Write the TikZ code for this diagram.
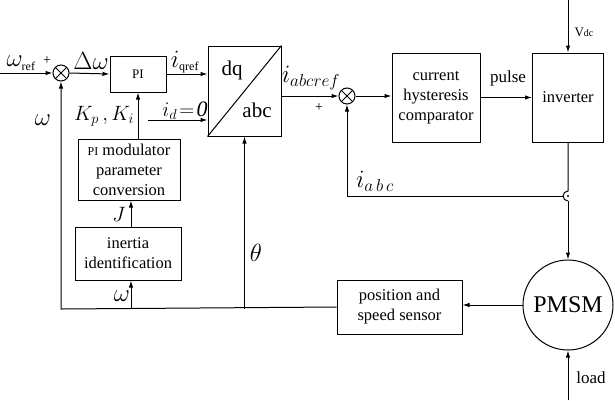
\documentclass[tikz,border=0pt]{standalone}
\usepackage{fontspec}
\setmainfont{Liberation Serif}
\usetikzlibrary{arrows.meta}

\tikzset{
    block/.style={draw, inner sep=0pt, align=center, font=\fontsize{16.5}{20}\selectfont},
    summer/.style={draw, circle, minimum size=16pt, inner sep=0pt,
        path picture={\draw (path picture bounding box.north west) -- (path picture bounding box.south east)
                            (path picture bounding box.north east) -- (path picture bounding box.south west);}},
    lbl/.style={inner sep=0pt, font=\fontsize{17}{20}\selectfont},
}

\begin{document}
\begin{tikzpicture}[x=1pt, y=-1pt, line width=1pt, >={Latex[length=7pt,width=4.5pt]}]
    \useasboundingbox (0,0) rectangle (615,400);

    % First the speed loop
    \node[summer] (sum1) at (61,73) {};
    \node[block, minimum width=56pt, minimum height=36pt, font=\fontsize{13}{13}\selectfont] (pi) at (138,74) {PI};
    \node[block, minimum width=102pt, minimum height=61pt] (pimod) at (129,169.5) {{\fontsize{12}{12}\selectfont PI} modulator\\parameter\\conversion};
    \node[block, minimum width=106pt, minimum height=53pt] (inertia) at (128,253.5) {inertia\\identification};

    % Now the dq/abc transform
    \node[block, minimum width=73pt, minimum height=90pt] (dqabc) at (244.5,91) {};
    \draw (dqabc.south west) -- (dqabc.north east);
    \node[lbl, font=\fontsize{21}{21}\selectfont] (dq) at (232,70) {dq};
    \node[lbl, font=\fontsize{21}{21}\selectfont] (abc) at (257,110) {abc};

    % Now the current loop and the power stage
    \node[summer] (sum2) at (347,96) {};
    \node[block, minimum width=88pt, minimum height=89pt] (comp) at (436,97.5) {current\\hysteresis\\comparator};
    \node[block, minimum width=71pt, minimum height=89pt] (inv) at (568,97.5) {inverter};
    \node[draw, circle, minimum size=90pt, inner sep=0pt, font=\fontsize{24}{24}\selectfont] (pmsm) at (568,305) {PMSM};
    \node[block, minimum width=125pt, minimum height=54pt] (sensor) at (399.5,307) {position and\\speed sensor};

    % Free ends and corners
    \coordinate (in) at (0,73);
    \coordinate (idin) at (148,120);
    \coordinate (vdc) at (568,0);
    \coordinate (load) at (568,400);
    \coordinate (fb) at (61,309);
    \coordinate (wtap) at (131,309);
    \coordinate (tap) at (568,196);
    \coordinate (tapin) at (568,191);
    \coordinate (tapout) at (568,201);
    \coordinate (tapw) at (563,196);
    \coordinate (iabc) at (347,196);

    % Now the connectors
    \draw[->] (in) -- (sum1.west);
    \draw[->] (sum1.east) -- (pi.west);
    \draw[->] (pi.east) -- (pi.east -| dqabc.west);
    \draw[->] (idin) -- (idin -| dqabc.west);
    \draw[->] (pimod.north -| pi.south) -- (pi.south);
    \draw[->] (inertia.north -| wtap) -- (pimod.south -| wtap);
    \draw[->] (wtap) -- (wtap |- inertia.south);
    \draw[->] (sensor.west) -- (fb) -- (sum1.south);
    \draw[->] (dqabc.south |- fb) -- (dqabc.south);
    \draw[->] (sum2 -| dqabc.east) -- (sum2.west);
    \draw[->] (sum2.east) -- (sum2.east -| comp.west);
    \draw[->] (comp.east) -- (inv.west);
    \draw[->] (vdc) -- (inv.north);
    \draw (inv.south) -- (tapin) arc[start angle=90, end angle=270, radius=5pt];
    \fill (tap) circle[radius=1.2pt];
    \draw[->] (tapout) -- (pmsm.north);
    \draw[->] (tapw) -- (iabc) -- (sum2.south);
    \draw[->] (pmsm.west) -- (sensor.east |- pmsm.west);
    \draw[->] (load) -- (pmsm.south);

    % Now the labels
    \node[lbl, font=\fontsize{24}{24}\selectfont] (wref) at (21,63) {$\omega_{\scriptscriptstyle\mathrm{ref}}$};
    \node[lbl, font=\fontsize{14}{14}\selectfont] (plus1) at (47,61) {+};
    \node[lbl, font=\fontsize{28}{28}\selectfont] (dw) at (91,61) {$\Delta\omega$};
    \node[lbl, font=\fontsize{24}{24}\selectfont] (iq) at (185,62) {$i_{\scriptscriptstyle\mathrm{qref}}$};
    \node[lbl, font=\fontsize{22}{22}\selectfont] (id) at (185,111) {$i_d\!=\!\mathit{0}$};
    \node[lbl, font=\fontsize{22}{22}\selectfont] (kpki) at (104,116) {$K_p\,,K_i$};
    \node[lbl, font=\fontsize{24}{24}\selectfont] (wfb) at (43,120) {$\omega$};
    \node[lbl, font=\fontsize{22}{22}\selectfont] (jlbl) at (119,214) {$J$};
    \node[lbl, font=\fontsize{24}{24}\selectfont] (wbot) at (122,296) {$\omega$};
    \node[lbl, font=\fontsize{24}{24}\selectfont] (theta) at (256,253) {$\theta$};
    \node[lbl, font=\fontsize{24}{24}\selectfont] (iref) at (311,78) {$i_{abcref}$};
    \node[lbl, font=\fontsize{14}{14}\selectfont] (plus2) at (319,108) {+};
    \node[lbl] (pulse) at (508,78) {pulse};
    \node[lbl] (vdclbl) at (584,32) {\fontsize{13}{13}\selectfont V{\fontsize{10}{10}\selectfont dc}};
    \node[lbl, font=\fontsize{24}{24}\selectfont] (iabclbl) at (375,181) {$i_{a\,b\,c}$};
    \node[lbl] (loadlbl) at (591,378) {load};
\end{tikzpicture}
\end{document}
